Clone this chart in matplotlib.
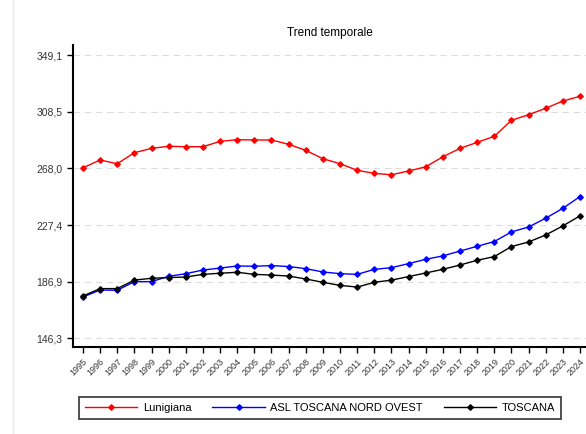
import matplotlib
matplotlib.use("Agg")
import matplotlib.pyplot as plt
from matplotlib.lines import Line2D

years = list(range(1995, 2025))
y_ticks = [146.3, 186.9, 227.4, 268.0, 308.5, 349.1]

lunigiana = [268.4, 274.0, 271.3, 279.2, 282.3, 283.8, 283.5, 283.5, 287.3, 288.5,
             288.3, 288.3, 285.2, 280.9, 274.9, 271.3, 266.6, 264.4, 263.4, 266.1,
             269.1, 276.3, 282.3, 286.6, 290.9, 302.4, 306.4, 311.0, 316.2, 319.6]
asl_nord_ovest = [175.9, 180.9, 180.7, 186.9, 186.9, 190.7, 192.6, 195.2, 196.6, 198.1,
                  197.9, 198.4, 197.7, 196.2, 193.8, 192.6, 192.1, 195.7, 196.9, 199.8,
                  202.9, 205.3, 208.8, 212.2, 215.6, 222.5, 226.0, 232.3, 239.4, 247.8]
toscana = [176.6, 181.9, 181.9, 188.0, 189.3, 189.8, 190.2, 192.1, 192.9, 193.6,
           192.1, 191.6, 190.9, 188.8, 186.4, 184.2, 183.0, 186.4, 188.0, 190.5,
           193.1, 195.7, 198.8, 202.2, 204.8, 212.0, 215.3, 220.3, 226.8, 234.0]

series = [("Lunigiana", lunigiana, "#ff0000"),
          ("ASL TOSCANA NORD OVEST", asl_nord_ovest, "#0000ff"),
          ("TOSCANA", toscana, "#000000")]

plt.rcParams['font.family'] = ['Liberation Sans', 'DejaVu Sans']

fig = plt.figure(figsize=(5.86, 4.34), dpi=100)
ax = fig.add_axes([0.1246, 0.2011, 0.8754, 0.6952])

x = list(range(len(years)))
for name, vals, col in series:
    ax.plot(x, vals, color=col, linewidth=1.0, marker='D', markersize=2.8, label=name)

ax.set_xlim(-0.58, 29.35)
ax.set_ylim(140.3, 356.3)
ax.set_yticks(y_ticks)
ax.set_yticklabels([f"{v:.1f}".replace('.', ',') for v in y_ticks], fontsize=7.5, color='#333333')
ax.set_xticks(x)
ax.set_xticklabels([str(y) for y in years], rotation=45, fontsize=6.5,
                   ha='right', rotation_mode='anchor', color='#333333')
ax.yaxis.grid(True, linestyle=(0, (6, 4)), color='#dddddd', linewidth=0.8)
ax.set_axisbelow(True)
for s in ['top', 'right']:
    ax.spines[s].set_visible(False)
ax.spines['left'].set_linewidth(1.5)
ax.spines['bottom'].set_linewidth(1.5)
ax.tick_params(axis='both', direction='out', length=4, width=1)

fig.text(0.563, 0.925, "Trend temporale", ha='center', va='center', fontsize=8.5)

# faint frame line on the left
fig.add_artist(Line2D([13 / 586, 13 / 586], [0, 1], color='#e0eaf0', linewidth=1))

handles, labels = ax.get_legend_handles_labels()
leg = fig.legend(handles, labels, loc='center', ncol=3, fontsize=8,
                 bbox_to_anchor=(0.546, 0.06),
                 frameon=True, fancybox=False, edgecolor='black',
                 handlelength=4.7, handletextpad=0.5, borderpad=0.5,
                 columnspacing=1.9)
leg.get_frame().set_linewidth(1.2)

fig.savefig("out.png", dpi=100)
